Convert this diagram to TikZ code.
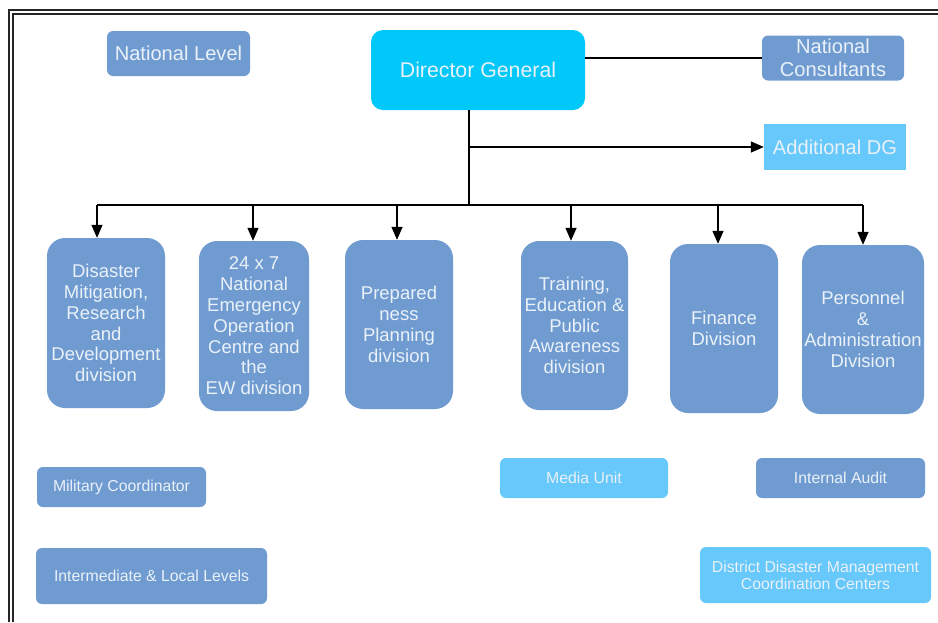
\documentclass[tikz,border=0pt]{standalone}
\usepackage{fontspec}
\setmainfont{Liberation Sans}
\usetikzlibrary{arrows.meta}
\definecolor{midblue}{HTML}{6F9BD0}
\definecolor{cyanbox}{HTML}{00C8F8}
\definecolor{lightblue}{HTML}{66C8FB}
\definecolor{boxtext}{HTML}{EAF1F9}
\tikzset{
  base/.style={draw=none, text=boxtext, align=center, inner sep=0pt},
  divbox/.style={base, fill=midblue, rounded corners=18pt, font=\fontsize{18.5}{20.8}\selectfont},
  smallbox/.style={base, rounded corners=6pt, font=\fontsize{15.8}{17}\selectfont},
  bigtext/.style={font=\fontsize{20.1}{22.5}\selectfont},
  conn/.style={line width=1.4pt, black},
  arr/.style={conn, -{Triangle[length=13pt,width=11pt]}},
  frameline/.style={line width=1.2pt, black!85}
}
\begin{document}
\begin{tikzpicture}[x=1pt,y=-1pt]
\useasboundingbox (0,0) rectangle (938,622);
\fill[white] (0,0) rectangle (938,622);
% frame (double line, left and top)
\draw[frameline] (9,622) -- (9,10) -- (938,10);
\draw[frameline] (13,622) -- (13,14) -- (938,14);

% top level
\node[smallbox, bigtext, fill=midblue, minimum width=143pt, minimum height=45pt] (nl) at (178.5,53.5) {National Level};
\node[base, fill=cyanbox, rounded corners=12pt, minimum width=214pt, minimum height=80pt, font=\fontsize{21.3}{24}\selectfont] (dg) at (478,70) {Director General};
\node[smallbox, bigtext, fill=midblue, minimum width=142pt, minimum height=45pt] (nc) at (833,58) {National\\Consultants};
\node[base, bigtext, fill=lightblue, minimum width=142pt, minimum height=46pt] (adg) at (835,147) {Additional DG};

% divisions
\node[divbox, minimum width=118pt, minimum height=170pt] (d1) at (106,323) {Disaster\\Mitigation,\\Research\\and\\Development\\division};
\node[divbox, minimum width=110pt, minimum height=170pt] (d2) at (254,326) {24 x 7\\National\\Emergency\\Operation\\Centre and\\the\\EW division};
\node[divbox, minimum width=108pt, minimum height=169pt] (d3) at (399,324.5) {Prepared\\ness\\Planning\\division};
\node[divbox, minimum width=107pt, minimum height=169pt] (d4) at (574.5,325.5) {Training,\\Education \&\\Public\\Awareness\\division};
\node[divbox, minimum width=108pt, minimum height=169pt] (d5) at (724,328.5) {Finance\\Division};
\node[divbox, minimum width=122pt, minimum height=169pt] (d6) at (863,329.5) {Personnel\\\&\\Administration\\Division};

% bottom boxes
\node[smallbox, fill=midblue, minimum width=169pt, minimum height=40pt] (mc) at (121.5,487) {Military Coordinator};
\node[smallbox, fill=midblue, minimum width=231pt, minimum height=56pt] (il) at (151.5,576) {Intermediate \& Local Levels};
\node[smallbox, fill=lightblue, minimum width=168pt, minimum height=40pt] (mu) at (584,478) {Media Unit};
\node[smallbox, fill=midblue, minimum width=169pt, minimum height=40pt] (ia) at (840.5,478) {Internal Audit};
\node[smallbox, fill=lightblue, minimum width=231pt, minimum height=56pt] (dd) at (815.5,575) {District Disaster Management\\Coordination Centers};

% connectors
\coordinate (v) at (469,205);
\coordinate (b1) at (97,205);
\coordinate (b2) at (253,205);
\coordinate (b3) at (397,205);
\coordinate (b4) at (571,205);
\coordinate (b5) at (718,205);
\coordinate (b6) at (863,205);
\draw[conn] (dg.east |- nc.west) -- (nc.west);
\draw[conn] (v |- dg.south) -- (v);
\draw[arr] (v |- adg.west) -- (adg.west);
\draw[conn] (b1) -- (b6);
\draw[arr] (b1) -- (b1 |- d1.north);
\draw[arr] (b2) -- (b2 |- d2.north);
\draw[arr] (b3) -- (b3 |- d3.north);
\draw[arr] (b4) -- (b4 |- d4.north);
\draw[arr] (b5) -- (b5 |- d5.north);
\draw[arr] (b6) -- (b6 |- d6.north);
\end{tikzpicture}
\end{document}
